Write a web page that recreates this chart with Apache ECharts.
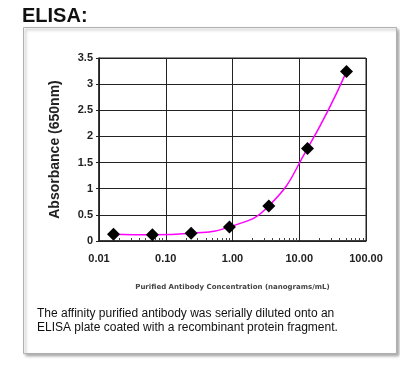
<!DOCTYPE html>
<html>
<head>
<meta charset="utf-8">
<script src="https://cdn.jsdelivr.net/npm/echarts@6/dist/echarts.min.js"></script>
<style>
  html, body { margin: 0; padding: 0; background: #fff; }
  #chart { width: 400px; height: 376px; }
</style>
</head>
<body>
<div id="chart"></div>
<script>
// antibody concentration (ng/mL) and measured absorbance
const concentrations = [0.0165, 0.063, 0.24, 0.9, 3.5, 13.3, 51];
const absorbance = [0.13, 0.12, 0.15, 0.27, 0.67, 1.77, 3.24];
const captionLines = [
  'The affinity purified antibody was serially diluted onto an',
  'ELISA plate coated with a recombinant protein fragment.'
];

const points = concentrations.map((c, i) => [c, absorbance[i]]);
const font = '"Liberation Sans", Arial, sans-serif';

const chart = echarts.init(document.getElementById('chart'), null, { renderer: 'canvas' });

chart.setOption({
  animation: false,
  backgroundColor: '#fff',
  graphic: [
    // framed panel with a soft shadow
    {
      type: 'rect', z: -10, silent: true,
      shape: { x: 23.5, y: 27.5, width: 373, height: 326 },
      style: {
        fill: '#fff', stroke: '#b0b0b0', lineWidth: 1,
        shadowColor: 'rgba(0,0,0,0.35)', shadowBlur: 3, shadowOffsetX: 2, shadowOffsetY: 2
      }
    },
    {
      type: 'text', left: 22, top: 6,
      style: { text: 'ELISA:', font: 'bold 20px ' + font, fill: '#111' }
    },
    {
      type: 'text', left: 37, top: 307,
      style: {
        text: captionLines.join('\n'), font: '12px ' + font, fill: '#111', lineHeight: 14
      }
    }
  ],
  grid: { left: 99, top: 58, right: 34, bottom: 135, show: true, borderColor: '#222', borderWidth: 1 },
  xAxis: {
    type: 'log',
    logBase: 10,
    min: 0.01,
    max: 100,
    name: 'Purified Antibody Concentration (nanograms/mL)',
    nameLocation: 'middle',
    nameGap: 43,
    nameTextStyle: { fontFamily: '"DejaVu Sans", sans-serif', fontSize: 7, fontWeight: 'bold', color: '#444' },
    axisLine: { lineStyle: { color: '#222', width: 1.5 } },
    axisTick: { inside: true, length: 3, lineStyle: { color: '#222' } },
    minorTick: { show: true, splitNumber: 9, length: 3, lineStyle: { color: '#444' } },
    splitLine: { show: true, lineStyle: { color: '#222', width: 1 } },
    axisLabel: {
      margin: 12, fontFamily: font, fontSize: 11, fontWeight: 'bold', color: '#222',
      formatter: v => v.toFixed(2)
    }
  },
  yAxis: {
    type: 'value',
    min: 0,
    max: 3.5,
    interval: 0.5,
    name: 'Absorbance (650nm)',
    nameLocation: 'middle',
    nameGap: 37,
    nameTextStyle: { fontFamily: font, fontSize: 14, fontWeight: 'bold', color: '#222' },
    axisLine: { show: true, lineStyle: { color: '#222', width: 1.5 } },
    axisTick: { show: true, length: 3, lineStyle: { color: '#222' } },
    splitLine: { show: true, lineStyle: { color: '#222', width: 1 } },
    axisLabel: {
      margin: 6, fontFamily: font, fontSize: 11, fontWeight: 'bold', color: '#222',
      formatter: v => String(v)
    }
  },
  series: [{
    type: 'line',
    data: points,
    smooth: 0.5,
    symbol: 'diamond',
    symbolSize: 13,
    itemStyle: { color: '#000' },
    lineStyle: { color: '#ff00ff', width: 1.5 }
  }]
});
</script>
</body>
</html>
